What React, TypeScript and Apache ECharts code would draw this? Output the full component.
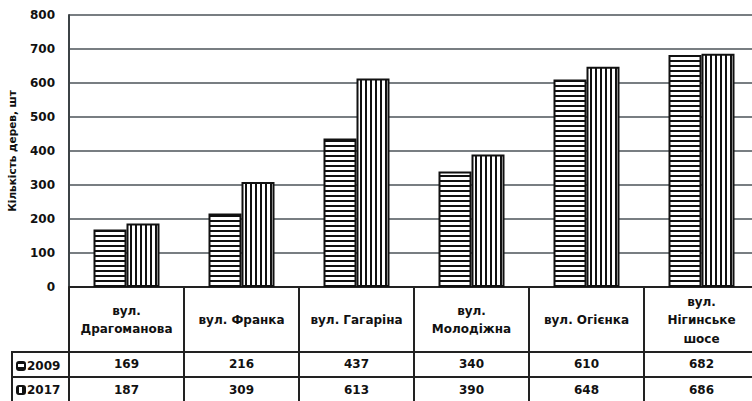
import React, { useEffect, useRef } from "react";
import * as echarts from "echarts";

const categories = [
  "вул.\nДрагоманова",
  "вул. Франка",
  "вул. Гагаріна",
  "вул.\nМолодіжна",
  "вул. Огієнка",
  "вул.\nНігинське\nшосе",
];
const values2009 = [169, 216, 437, 340, 610, 682];
const values2017 = [187, 309, 613, 390, 648, 686];
const seriesNames = ["2009", "2017"];
const yTicks = { min: 0, max: 800, interval: 100 };

function makePattern(horizontal: boolean): HTMLCanvasElement {
  const c = document.createElement("canvas");
  c.width = 5;
  c.height = 5;
  const ctx = c.getContext("2d")!;
  ctx.fillStyle = "#ffffff";
  ctx.fillRect(0, 0, 5, 5);
  ctx.fillStyle = "#111111";
  if (horizontal) ctx.fillRect(0, 0, 5, 2);
  else ctx.fillRect(0, 0, 2, 5);
  return c;
}

export default function App() {
  const ref = useRef<HTMLDivElement>(null);
  useEffect(() => {
    if (!ref.current) return;
    const chart = echarts.init(ref.current, undefined, { renderer: "svg" });
    const font = "'DejaVu Sans', Verdana, sans-serif";
    const txt = { fontFamily: font, fontWeight: "bold" as const, fontSize: 12, color: "#111" };
    const lineCol = "#222";
    const hPat = { image: makePattern(true), repeat: "repeat" };
    const vPat = { image: makePattern(false), repeat: "repeat" };
    chart.setOption({
      animation: false,
      backgroundColor: "#fff",
      grid: {
        left: 69,
        top: 15,
        height: 272,
        width: 690,
        containLabel: false,
        outerBoundsMode: "none",
      },
      legend: {
        orient: "vertical",
        left: 11,
        top: 355,
        height: 70,
        itemWidth: 8,
        itemHeight: 8,
        itemGap: 12,
        icon: "roundRect",
        textStyle: { ...txt, padding: [0, 0, 0, -3] },
        data: seriesNames,
        selectedMode: false,
      },
      xAxis: [
        {
          type: "category",
          data: categories,
          position: "bottom",
          axisLine: { show: true, lineStyle: { color: lineCol, width: 2 } },
          axisTick: { show: true, length: 120, interval: 0, lineStyle: { color: lineCol, width: 2 } },
          axisLabel: { ...txt, interval: 0, margin: 33, verticalAlign: "middle", lineHeight: 18.5 },
          splitLine: { show: false },
        },
        {
          type: "category",
          data: categories,
          position: "bottom",
          axisLine: { show: false },
          axisTick: { show: false },
          axisLabel: {
            ...txt,
            interval: 0,
            margin: 77,
            verticalAlign: "middle",
            formatter: (_v: string, i: number) => String(values2009[i]),
          },
        },
        {
          type: "category",
          data: categories,
          position: "bottom",
          axisLine: { show: false },
          axisTick: { show: false },
          axisLabel: {
            ...txt,
            interval: 0,
            margin: 103,
            verticalAlign: "middle",
            formatter: (_v: string, i: number) => String(values2017[i]),
          },
        },
      ],
      yAxis: {
        type: "value",
        min: yTicks.min,
        max: yTicks.max,
        interval: yTicks.interval,
        name: "Кількість дерев, шт",
        nameLocation: "middle",
        nameGap: 52,
        nameTextStyle: { fontFamily: font, fontWeight: "bold", fontSize: 10.5, color: "#111" },
        axisLine: { show: true, lineStyle: { color: "#3c4346", width: 2 } },
        axisTick: { show: false },
        axisLabel: { ...txt, margin: 14 },
        splitLine: { show: true, lineStyle: { color: "#4b5358", width: 1.5 } },
      },
      series: [
        {
          name: seriesNames[0],
          type: "bar",
          data: values2009,
          barWidth: 33,
          barGap: "0%",
          itemStyle: { color: hPat as any, borderColor: "#111", borderWidth: 2 },
        },
        {
          name: seriesNames[1],
          type: "bar",
          data: values2017,
          barWidth: 33,
          barGap: "0%",
          itemStyle: { color: vPat as any, borderColor: "#111", borderWidth: 2 },
        },
      ],
      graphic: [
        { type: "line", shape: { x1: 12, y1: 352, x2: 760, y2: 352 }, style: { stroke: lineCol, lineWidth: 2 } },
        { type: "line", shape: { x1: 12, y1: 377, x2: 760, y2: 377 }, style: { stroke: lineCol, lineWidth: 2 } },
        { type: "line", shape: { x1: 12, y1: 351, x2: 12, y2: 410 }, style: { stroke: lineCol, lineWidth: 2 } },
      ],
    });
    return () => chart.dispose();
  }, []);
  return <div ref={ref} style={{ width: 752, height: 401, position: "absolute", left: 0, top: 0 }} />;
}
